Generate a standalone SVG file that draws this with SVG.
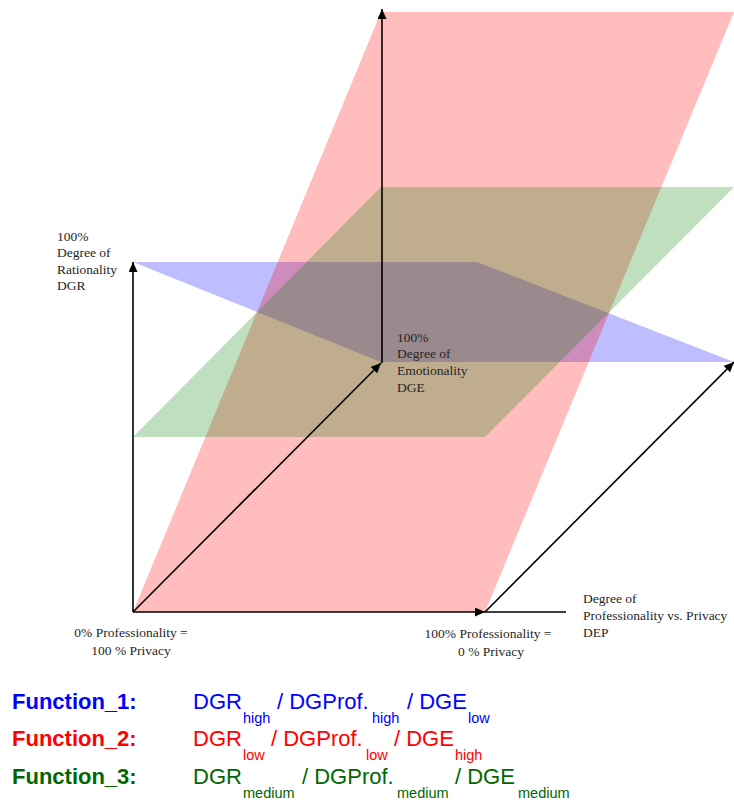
<svg xmlns="http://www.w3.org/2000/svg" width="734" height="806" viewBox="0 0 734 806">
<defs>
<marker id="ah" markerUnits="userSpaceOnUse" markerWidth="11" markerHeight="9" refX="10" refY="4.5" orient="auto">
<path d="M0,0 L10,4.5 L0,9 z" fill="#000"/>
</marker>
<style>
.lbl{font-family:"Liberation Serif","Times New Roman",serif;font-size:13.5px;fill:#262626}
.ax{stroke:#000;stroke-width:1.6;fill:none}
.fn{font-family:"Liberation Sans",Arial,sans-serif;font-size:22px;font-weight:bold}
.t{font-family:"Liberation Sans",Arial,sans-serif;font-size:22px}
.s{font-family:"Liberation Sans",Arial,sans-serif;font-size:14.5px}
.b{fill:#0000ff}.r{fill:#ff0000}.g{fill:#006600}
</style>
</defs>
<rect width="734" height="806" fill="#fff"/>
<g id="planes">
<polygon id="blue-plane" points="133,262 477,262 734,362 381,362" fill="#0000ff" fill-opacity="0.26"/>
<polygon id="red-plane" points="133,612 485,612 734,12 381,12" fill="#ff0000" fill-opacity="0.26"/>
<polygon id="green-plane" points="133,437 485,437 734,187 381,187" fill="#007f00" fill-opacity="0.25"/>
</g>
<g id="connectors">
<line class="ax" x1="133" y1="612" x2="133" y2="262" marker-end="url(#ah)"/>
<line class="ax" x1="133" y1="612" x2="485" y2="612" marker-end="url(#ah)"/>
<line class="ax" x1="485" y1="612" x2="566" y2="612"/>
<line class="ax" x1="133" y1="612" x2="381" y2="363" marker-end="url(#ah)"/>
<line class="ax" x1="382" y1="363" x2="382" y2="9" marker-end="url(#ah)"/>
<line class="ax" x1="485" y1="612" x2="734" y2="362" marker-end="url(#ah)"/>
<line class="ax" x1="739" y1="362" x2="739" y2="12" marker-end="url(#ah)"/>
</g>
<g id="dgr-label">
<text class="lbl" x="57" y="241">100%</text>
<text class="lbl" x="57" y="257">Degree of</text>
<text class="lbl" x="57" y="274">Rationality</text>
<text class="lbl" x="57" y="290">DGR</text>
</g>
<g id="dge-label">
<text class="lbl" x="397" y="342">100%</text>
<text class="lbl" x="397" y="358">Degree of</text>
<text class="lbl" x="397" y="375">Emotionality</text>
<text class="lbl" x="397" y="392">DGE</text>
</g>
<g id="origin-label">
<text class="lbl" x="131" y="637" text-anchor="middle">0% Professionality =</text>
<text class="lbl" x="131" y="655" text-anchor="middle">100 % Privacy</text>
</g>
<g id="full-prof-label">
<text class="lbl" x="488" y="638" text-anchor="middle">100% Professionality =</text>
<text class="lbl" x="491" y="656" text-anchor="middle">0 % Privacy</text>
</g>
<g id="dep-label">
<text class="lbl" x="583" y="603">Degree of</text>
<text class="lbl" x="583" y="620">Professionality vs. Privacy</text>
<text class="lbl" x="583" y="637">DEP</text>
</g>
<g id="function-1">
<text class="fn b" x="12" y="709">Function_1:</text>
<text class="t b" x="193" y="709">DGR</text>
<text class="s b" x="243" y="723">high</text>
<text class="t b" x="277" y="709">/ DGProf.</text>
<text class="s b" x="372" y="723">high</text>
<text class="t b" x="407" y="709">/ DGE</text>
<text class="s b" x="468" y="723">low</text>
</g>
<g id="function-2">
<text class="fn r" x="12" y="746">Function_2:</text>
<text class="t r" x="193" y="746">DGR</text>
<text class="s r" x="243" y="760">low</text>
<text class="t r" x="271" y="746">/ DGProf.</text>
<text class="s r" x="366" y="760">low</text>
<text class="t r" x="394" y="746">/ DGE</text>
<text class="s r" x="455" y="760">high</text>
</g>
<g id="function-3">
<text class="fn g" x="12" y="784">Function_3:</text>
<text class="t g" x="193" y="784">DGR</text>
<text class="s g" x="243" y="798">medium</text>
<text class="t g" x="302" y="784">/ DGProf.</text>
<text class="s g" x="397" y="798">medium</text>
<text class="t g" x="455" y="784">/ DGE</text>
<text class="s g" x="518" y="798">medium</text>
</g>
</svg>
